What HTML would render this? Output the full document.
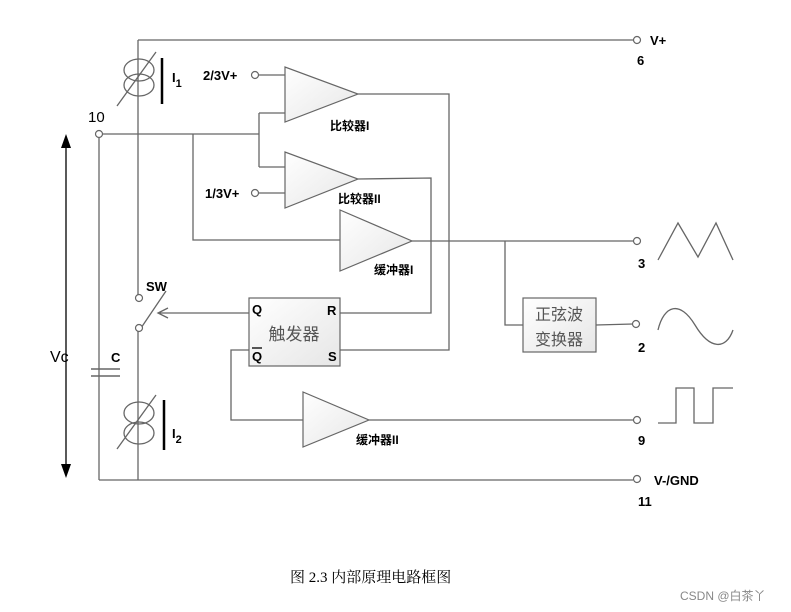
<!DOCTYPE html>
<html><head><meta charset="utf-8"><style>body{margin:0;background:#fff}svg{display:block}</style></head><body>
<svg width="791" height="612" viewBox="0 0 791 612" xmlns="http://www.w3.org/2000/svg" font-family="Liberation Sans, Noto Sans CJK SC, sans-serif">
<defs><linearGradient id="g" x1="0" y1="0" x2="1" y2="1"><stop offset="0" stop-color="#fff"/><stop offset="1" stop-color="#e6e6e6"/></linearGradient></defs>
<g stroke="#666" stroke-width="1.3" fill="none">
<path d="M138,40H633M138,40V297M99,138V480M99,134H259M259,113V167M259,113H285M259,167H285M193,134V240H340"/>
<path d="M259,75H285M259,193H285M358,94H449V350H340M358,179L431,178V313H340"/>
<path d="M412,241H633M505,241V325H523M596,325L633,324"/>
<path d="M249,350H231V420H303M369,420H633M138,328V480M99,480H633"/>
<path d="M249,313H158M168,308L158,313L168,318"/>
<path d="M141,328L166,291"/>
<ellipse cx="139" cy="70" rx="15" ry="11"/><ellipse cx="139" cy="85" rx="15" ry="11"/><path d="M117,106L156,52"/>
<ellipse cx="139" cy="413" rx="15" ry="11"/><ellipse cx="139" cy="433" rx="15" ry="11"/><path d="M117,449L156,395"/>
<path d="M91,369H120M91,376H120" stroke-width="1.6"/>
</g>
<g fill="#fff" stroke="#666" stroke-width="1.2">
<circle cx="99" cy="134" r="3.5"/><circle cx="255" cy="75" r="3.5"/><circle cx="255" cy="193" r="3.5"/>
<circle cx="637" cy="40" r="3.5"/><circle cx="637" cy="241" r="3.5"/><circle cx="636" cy="324" r="3.5"/><circle cx="637" cy="420" r="3.5"/><circle cx="637" cy="479" r="3.5"/>
<circle cx="139" cy="298" r="3.5"/><circle cx="139" cy="328" r="3.5"/>
<path d="M285,67L285,122L358,94Z" fill="url(#g)"/><path d="M285,152L285,208L358,179Z" fill="url(#g)"/>
<path d="M340,210L340,271L412,241Z" fill="url(#g)"/><path d="M303,392L303,447L369,420Z" fill="url(#g)"/>
<rect x="249" y="298" width="91" height="68" fill="url(#g)"/><rect x="523" y="298" width="73" height="54" fill="url(#g)"/>
</g>
<g stroke="#000" stroke-width="2.5"><path d="M162,58V104M164,400V450"/></g>
<path d="M66,140V472" stroke="#000" stroke-width="1.3"/>
<path d="M61,148L66,134L71,148Z M61,464L66,478L71,464Z" fill="#000"/>
<g stroke="#666" stroke-width="1.3" fill="none">
<path d="M658,260L678,223L698,257L716,223L733,260"/>
<path d="M658,330C664,305 680,300 695,325C710,350 726,350 733,330"/>
<path d="M658,423H676V388H694V423H713V388H733"/>
</g>
<g font-weight="bold" font-size="13" fill="#000">
<text x="650" y="45">V+</text><text x="637" y="65">6</text>
<text x="172" y="82">I<tspan font-size="11" dy="5">1</tspan></text>
<text x="172" y="438">I<tspan font-size="11" dy="5">2</tspan></text>
<text x="203" y="80">2/3V+</text><text x="205" y="198">1/3V+</text>
<text x="330" y="130" font-size="12">比较器I</text><text x="338" y="203" font-size="12">比较器II</text>
<text x="374" y="274" font-size="12">缓冲器I</text><text x="356" y="444" font-size="12">缓冲器II</text>
<text x="146" y="291">SW</text><text x="111" y="362">C</text>
<text x="252" y="314">Q</text><text x="327" y="315">R</text>
<text x="252" y="361">Q</text><text x="328" y="361">S</text>
<text x="638" y="268">3</text><text x="638" y="352">2</text><text x="638" y="445">9</text>
<text x="654" y="485">V-/GND</text><text x="638" y="506">11</text>
</g>
<path d="M252,348H262" stroke="#000" stroke-width="1.3"/>
<text x="88" y="122" font-size="15">10</text><text x="50" y="362" font-size="16">Vc</text>
<text x="294" y="340" font-size="17" text-anchor="middle" fill="#555">触发器</text>
<text x="559" y="320" font-size="16" text-anchor="middle" fill="#555">正弦波</text>
<text x="559" y="345" font-size="16" text-anchor="middle" fill="#555">变换器</text>
<text x="290" y="582" font-size="15" font-family="Liberation Serif, Noto Serif CJK SC, serif">图 2.3 内部原理电路框图</text>
<text x="680" y="600" font-size="12" fill="#888">CSDN @白茶丫</text>
</svg>
</body></html>
